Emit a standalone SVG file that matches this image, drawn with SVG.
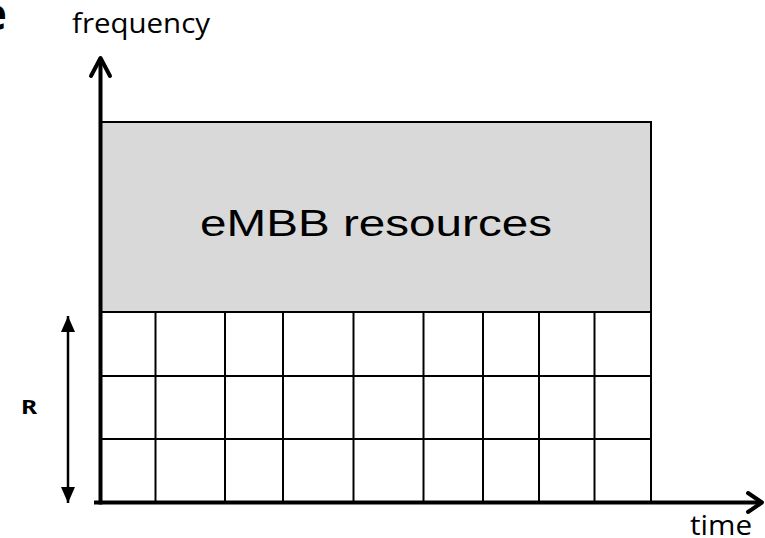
<svg xmlns="http://www.w3.org/2000/svg" width="765" height="538" viewBox="0 0 765 538">
  <style>
    .grid { stroke: #000; stroke-width: 2; fill: none; }
    .axis { stroke: #000; stroke-width: 4; fill: none; }
    .head { stroke: #000; stroke-width: 4; fill: none; stroke-linecap: round; stroke-linejoin: round; }
    .lbl { font-family: "Open Sans", "Noto Sans", sans-serif; font-size: 28px; fill: #000; }
    .bold { font-family: "Noto Sans", "Open Sans", sans-serif; font-weight: bold; fill: #000; }
    .res { font-family: "Liberation Sans", Arial, sans-serif; font-size: 37px; fill: #000; }
  </style>
  <defs>
    <marker id="tri" viewBox="0 0 16 14" refX="16" refY="7" markerWidth="6.4" markerHeight="5.6" orient="auto-start-reverse" markerUnits="strokeWidth">
      <path d="M0,0 L16,7 L0,14 Z" fill="#000"/>
    </marker>
  </defs>

  <rect width="765" height="538" fill="#fff"/>

  <!-- panel letter -->
  <text class="bold" x="7" y="30" style="font-size:44px" text-anchor="end">e</text>

  <!-- eMBB block -->
  <g id="embb">
    <rect x="101" y="122" width="550" height="190" fill="#d9d9d9" stroke="#000" stroke-width="2"/>
    <text class="res" x="200" y="236" textLength="352" lengthAdjust="spacingAndGlyphs">eMBB resources</text>
  </g>

  <!-- resource grid -->
  <g id="grid" class="grid">
    <line x1="101" y1="312" x2="651" y2="312"/>
    <line x1="101" y1="376" x2="651" y2="376"/>
    <line x1="101" y1="439" x2="651" y2="439"/>
    <line x1="155.5" y1="312" x2="155.5" y2="502"/>
    <line x1="225" y1="312" x2="225" y2="502"/>
    <line x1="283" y1="312" x2="283" y2="502"/>
    <line x1="353.5" y1="312" x2="353.5" y2="502"/>
    <line x1="423.5" y1="312" x2="423.5" y2="502"/>
    <line x1="483" y1="312" x2="483" y2="502"/>
    <line x1="539" y1="312" x2="539" y2="502"/>
    <line x1="594.5" y1="312" x2="594.5" y2="502"/>
    <line x1="651" y1="312" x2="651" y2="502"/>
  </g>

  <!-- axes -->
  <g id="connectors">
    <line class="axis" x1="100.5" y1="504.5" x2="100.5" y2="58"/>
    <polyline class="head" points="91,76 100.5,58 110,76"/>
    <line class="axis" x1="94" y1="502.5" x2="762" y2="502.5"/>
    <polyline class="head" points="748,493 762,502.5 748,512"/>
    <line x1="68" y1="316" x2="68" y2="503" stroke="#000" stroke-width="2.5" marker-start="url(#tri)" marker-end="url(#tri)"/>
  </g>

  <g id="labels">
    <text class="lbl" x="72" y="33" textLength="138" lengthAdjust="spacingAndGlyphs">frequency</text>
    <text class="lbl" x="690" y="535" textLength="62" lengthAdjust="spacingAndGlyphs">time</text>
    <text class="bold" transform="translate(21 414) scale(1.3 1)" x="0" y="0" style="font-size:19px">R</text>
  </g>
</svg>
